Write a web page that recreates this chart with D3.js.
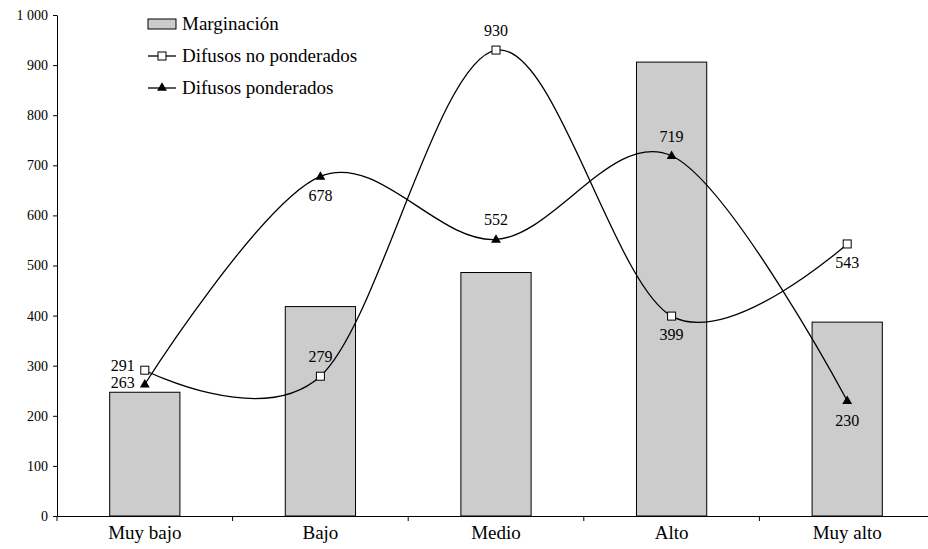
<!DOCTYPE html>
<html>
<head>
<meta charset="utf-8">
<script src="https://cdn.jsdelivr.net/npm/d3@7"></script>
<style>
  body { margin: 0; background: #fff; }
  svg { display: block; font-family: "Liberation Serif", "DejaVu Serif", serif; }
</style>
</head>
<body>
<div id="chart"></div>
<script>
// Data
const categories = ["Muy bajo", "Bajo", "Medio", "Alto", "Muy alto"];
const marginacion = [247, 418, 486, 906, 387];
const noPonderados = [291, 279, 930, 399, 543];
const ponderados = [263, 678, 552, 719, 230];
const yTicks = [0, 100, 200, 300, 400, 500, 600, 700, 800, 900, 1000];

const width = 928, height = 549;
const margin = { top: 15, right: -7, bottom: 33, left: 57 };
const serif = '"Liberation Serif", "DejaVu Serif", serif';

const svg = d3.select("#chart").append("svg")
  .attr("width", width)
  .attr("height", height);

const x = d3.scaleBand()
  .domain(categories)
  .range([margin.left, width - margin.right])
  .padding(0);

const y = d3.scaleLinear()
  .domain([0, 1000])
  .range([height - margin.bottom, margin.top]);

const fmt = d3.formatLocale({ decimal: ",", thousands: " ", grouping: [3], currency: ["", ""] }).format(",d");

// Bars
const barW = x.bandwidth() * 0.4;
svg.append("g")
  .selectAll("rect")
  .data(marginacion)
  .join("rect")
  .attr("x", (d, i) => x(categories[i]) + (x.bandwidth() - barW) / 2)
  .attr("y", d => y(d))
  .attr("width", barW)
  .attr("height", d => y(0) - y(d))
  .attr("fill", "#cccccc")
  .attr("stroke", "#000")
  .attr("stroke-width", 1);

// Axes
const yAxis = svg.append("g")
  .attr("transform", `translate(${margin.left},0)`)
  .call(d3.axisLeft(y).tickValues(yTicks).tickFormat(fmt).tickSize(4).tickSizeOuter(0))
  .attr("font-family", serif);
yAxis.selectAll("text").attr("font-size", 14).attr("fill", "#000").attr("dx", "-2");
yAxis.selectAll("line, path").attr("stroke", "#000");

const xAxis = svg.append("g")
  .attr("transform", `translate(0,${y(0)})`)
  .call(d3.axisBottom(x).tickSize(0).tickSizeOuter(0))
  .attr("font-family", serif);
xAxis.select(".domain").attr("stroke", "#000");
xAxis.selectAll("text").attr("font-size", 19).attr("fill", "#000").attr("dy", "1.05em");
// tick marks at category boundaries
xAxis.selectAll("line.bound")
  .data(categories)
  .join("line")
  .attr("class", "bound")
  .attr("x1", d => x(d)).attr("x2", d => x(d))
  .attr("y1", 0).attr("y2", 5)
  .attr("stroke", "#000");

// Lines
const cx = i => x(categories[i]) + x.bandwidth() / 2;
const line = d3.line()
  .x((d, i) => cx(i))
  .y(d => y(d))
  .curve(d3.curveCardinal.tension(0));

svg.append("path")
  .datum(noPonderados)
  .attr("d", line)
  .attr("fill", "none")
  .attr("stroke", "#000")
  .attr("stroke-width", 1.3);

svg.append("path")
  .datum(ponderados)
  .attr("d", line)
  .attr("fill", "none")
  .attr("stroke", "#000")
  .attr("stroke-width", 1.3);

// Markers
svg.append("g")
  .selectAll("rect")
  .data(noPonderados)
  .join("rect")
  .attr("x", (d, i) => cx(i) - 4)
  .attr("y", d => y(d) - 4)
  .attr("width", 8)
  .attr("height", 8)
  .attr("fill", "#fff")
  .attr("stroke", "#000")
  .attr("stroke-width", 1);

const tri = d3.symbol().type(d3.symbolTriangle).size(42);
svg.append("g")
  .selectAll("path")
  .data(ponderados)
  .join("path")
  .attr("d", tri)
  .attr("transform", (d, i) => `translate(${cx(i)},${y(d) + 0.5})`)
  .attr("fill", "#000");

// Data labels: [dx, dy, anchor]
const npPos = [[-10, 1, "end"], [0, -14, "middle"], [0, -14, "middle"], [0, 24, "middle"], [0, 24, "middle"]];
const pPos = [[-10, 4, "end"], [0, 25, "middle"], [0, -14, "middle"], [0, -14, "middle"], [0, 25, "middle"]];

svg.append("g")
  .selectAll("text")
  .data(noPonderados)
  .join("text")
  .attr("x", (d, i) => cx(i) + npPos[i][0])
  .attr("y", (d, i) => y(d) + npPos[i][1])
  .attr("text-anchor", (d, i) => npPos[i][2])
  .attr("font-size", 16)
  .text(d => d);

svg.append("g")
  .selectAll("text")
  .data(ponderados)
  .join("text")
  .attr("x", (d, i) => cx(i) + pPos[i][0])
  .attr("y", (d, i) => y(d) + pPos[i][1])
  .attr("text-anchor", (d, i) => pPos[i][2])
  .attr("font-size", 16)
  .text(d => d);

// Legend
const legend = svg.append("g").attr("transform", "translate(148,0)");
const rowY = [24, 56, 88];
legend.append("rect")
  .attr("x", 0).attr("y", rowY[0] - 5)
  .attr("width", 28).attr("height", 10)
  .attr("fill", "#cccccc").attr("stroke", "#000");
legend.append("line")
  .attr("x1", 0).attr("x2", 28).attr("y1", rowY[1]).attr("y2", rowY[1])
  .attr("stroke", "#000").attr("stroke-width", 1.3);
legend.append("rect")
  .attr("x", 10).attr("y", rowY[1] - 4).attr("width", 8).attr("height", 8)
  .attr("fill", "#fff").attr("stroke", "#000");
legend.append("line")
  .attr("x1", 0).attr("x2", 28).attr("y1", rowY[2]).attr("y2", rowY[2])
  .attr("stroke", "#000").attr("stroke-width", 1.3);
legend.append("path")
  .attr("d", tri)
  .attr("transform", `translate(14,${rowY[2]})`)
  .attr("fill", "#000");

const legendNames = ["Marginación", "Difusos no ponderados", "Difusos ponderados"];
legend.selectAll("text.lbl")
  .data(legendNames)
  .join("text")
  .attr("class", "lbl")
  .attr("x", 34)
  .attr("y", (d, i) => rowY[i] + 6)
  .attr("font-size", 19)
  .text(d => d);
</script>
</body>
</html>
